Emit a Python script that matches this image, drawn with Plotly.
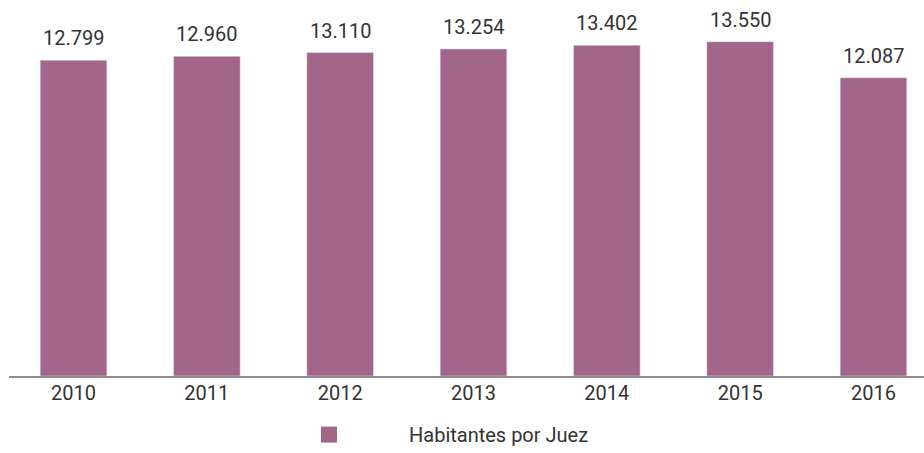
import plotly.graph_objects as go

years = ["2010", "2011", "2012", "2013", "2014", "2015", "2016"]
habitantes = [12799, 12960, 13110, 13254, 13402, 13550, 12087]
labels = ["12.799", "12.960", "13.110", "13.254", "13.402", "13.550", "12.087"]
series_name = "Habitantes por Juez"

BAR = "#A2668A"
TXT = "#333333"
FONT = "Roboto, DejaVu Sans Condensed, sans-serif"

fig = go.Figure()
fig.add_trace(go.Bar(
    x=years, y=habitantes, marker_color=BAR, width=0.5,
    showlegend=False, hoverinfo="x+y",
))
fig.add_trace(go.Scatter(
    x=[None], y=[None], mode="markers", name=series_name,
    marker=dict(symbol="square", size=25, color=BAR),
))

for i, (v, lab) in enumerate(zip(habitantes, labels)):
    fig.add_annotation(x=i, y=v, xref="x", yref="y", text=lab,
                       showarrow=False, yanchor="bottom", yshift=8,
                       font=dict(family=FONT, size=20, color=TXT))

fig.update_layout(
    width=924, height=453,
    margin=dict(l=9, r=0, t=0, b=77, autoexpand=False),
    paper_bgcolor="white", plot_bgcolor="white",
    font=dict(family=FONT, size=20, color=TXT),
    xaxis=dict(type="category", range=[-0.484, 6.379], showline=True,
               linecolor="#8f8f8f", linewidth=1.5, ticks="",
               showgrid=False, automargin=False, ticklabelstandoff=-2,
               tickfont=dict(size=20, color=TXT)),
    yaxis=dict(range=[0, 15240], visible=False, showgrid=False,
               automargin=False),
    legend=dict(orientation="h", x=0.2623, xanchor="left", y=-0.104,
                yanchor="top", itemwidth=150,
                font=dict(family=FONT, size=20, color=TXT)),
)

fig.write_html("out.html", config={"displayModeBar": False},
               post_script="document.body.style.margin='0';")
